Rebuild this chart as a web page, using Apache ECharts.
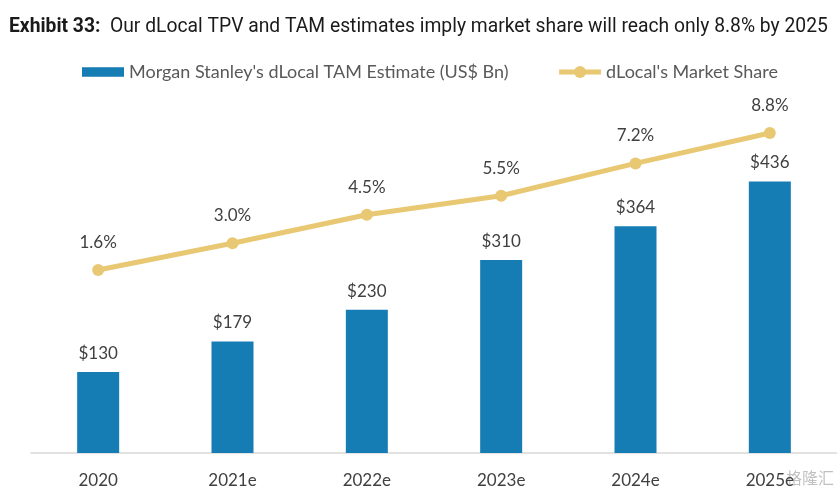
<!DOCTYPE html>
<html><head><meta charset="utf-8">
<script src="https://cdn.jsdelivr.net/npm/echarts@6/dist/echarts.min.js"></script>
<style>html,body{margin:0;padding:0;background:#fff}#c{width:837px;height:496px}</style>
</head><body><div id="c"></div>
<script>
var categories = ['2020','2021e','2022e','2023e','2024e','2025e'];
var tamValues = [130,179,230,310,364,436];
var shareValues = [1.6,3.0,4.5,5.5,7.2,8.8];
var barName = "Morgan Stanley's dLocal TAM Estimate (US$ Bn)";
var lineName = "dLocal's Market Share";
var titleBold = 'Exhibit 33:';
var titleText = 'Our dLocal TPV and TAM estimates imply market share will reach only 8.8% by 2025';

var chart = echarts.init(document.getElementById('c'));
var font = 'Lato';
chart.setOption({
  animation:false,
  backgroundColor:'#fff',
  title:{
    text:'{b|'+titleBold+'}  '+titleText,
    left:4, top:13,
    textStyle:{fontFamily:'Roboto', fontSize:19.3, fontWeight:'normal', color:'#1a1a1a',
      rich:{b:{fontFamily:'Roboto', fontSize:19.3, fontWeight:'bold', color:'#1a1a1a'}}}
  },
  legend:{
    left:77, top:58, itemGap:48, itemWidth:42, itemHeight:15, symbolKeepAspect:true,
    textStyle:{fontFamily:font, fontSize:18, color:'#595959'},
    data:[{name:barName, icon:'path://M0,0h42v9.5h-42z'},{name:lineName, lineStyle:{width:5}}]
  },
  grid:{left:31, width:807, top:93, bottom:43},
  xAxis:{
    type:'category', data:categories,
    axisLine:{lineStyle:{color:'#d9d9d9', width:1.5}},
    axisTick:{show:false},
    axisLabel:{fontFamily:font, fontSize:17, color:'#404040', margin:19}
  },
  yAxis:[
    {type:'value', min:0, max:578, show:false, splitLine:{show:false}},
    {type:'value', min:-8.02, max:10.9, show:false, splitLine:{show:false}}
  ],
  series:[
    {name:barName, type:'bar', data:tamValues, barWidth:42, yAxisIndex:0,
     itemStyle:{color:'#157DB3'},
     label:{show:true, position:'top', distance:10, formatter:function(p){return '$'+p.value;},
       fontFamily:font, fontSize:17, color:'#404040'}},
    {name:lineName, type:'line', data:shareValues, yAxisIndex:1,
     lineStyle:{color:'#E8C873', width:5}, itemStyle:{color:'#E8C873'},
     symbol:'circle', symbolSize:12,
     label:{show:true, position:'top', distance:13, formatter:function(p){return p.value.toFixed(1)+'%';},
       fontFamily:font, fontSize:17, color:'#404040'}}
  ],
  graphic:[
    {type:'text', left:786, top:470, style:{text:'格隆汇', font:'16px "Noto Sans CJK SC"', fill:'rgba(150,150,150,0.6)'}}
  ]
});
</script></body></html>
